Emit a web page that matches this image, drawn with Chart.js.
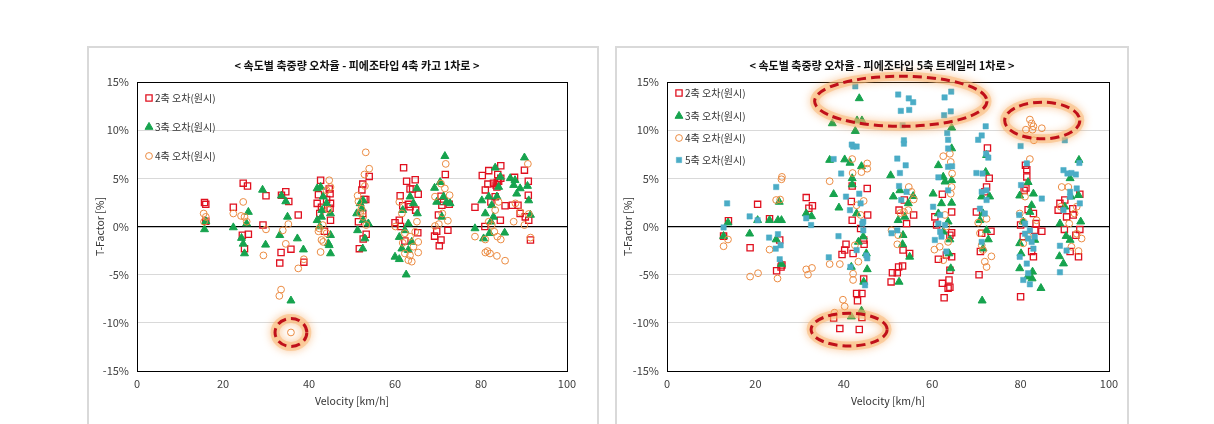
<!DOCTYPE html>
<html>
<head>
<meta charset="utf-8">
<script src="https://cdn.jsdelivr.net/npm/chart.js@4.4.1/dist/chart.umd.min.js"></script>
<style>
body { margin:0; background:#fff; width:1214px; height:424px; overflow:hidden; position:relative; }
.box { position:absolute; top:46px; height:400px; border:2px solid #d9d9d9; box-sizing:border-box; }
canvas { position:absolute; top:48px; }
</style>
</head>
<body>
<div class="box" style="left:87px;width:512px"></div>
<div class="box" style="left:615px;width:514px"></div>
<canvas id="leftChart" width="510" height="376" style="left:88px"></canvas>
<canvas id="rightChart" width="510" height="376" style="left:617px"></canvas>
<script>
// values: [velocity km/h, T-Factor %]
const seriesNames = ['2축 오차(원시)', '3축 오차(원시)', '4축 오차(원시)', '5축 오차(원시)'];
const xTicks = [0, 20, 40, 60, 80, 100];
const yTicks = [-15, -10, -5, 0, 5, 10, 15];

// 4축 카고
const left2 = [[15.7,2.5],[16,2.3],[16,0.55],[22.4,2.0],[24.7,4.5],[25.7,4.2],[24.5,-0.9],[25,-2.3],[25.9,-0.8],[29.3,0.15],[30,3.2],
  [33.6,3.25],[34.6,3.6],[35.3,2.6],[33.5,-2.7],[33.2,-3.8],[35.8,-2.35],[37.5,1.2],[38.8,-3.7],
  [42.7,4.8],[42.2,3.3],[44.7,3.9],[44.9,3.4],[45,2.4],[41.9,2.4],[42.9,2.0],[44.9,1.9],[42.5,1.35],[45,0.65],[43.6,-0.5],[44.1,2.8],
  [52.5,4.4],[52.3,3.8],[52.8,2.8],[53.2,2.8],[54,5.2],[51.5,0.5],[52.5,1.35],[52.6,-1.3],[51.7,-2.3],[53.3,-0.8],
  [62,6.1],[62.7,4.7],[64.7,4.85],[63.5,3.9],[64.1,3.9],[61.2,3.2],[65.4,3.35],[60,0.4],[61,0.65],[61.8,2.15],[63.1,2.3],[63.5,2.05],[64.8,1.7],[65.3,-0.65],[62.3,-1.5],[61.3,0],
  [71.7,5.4],[70.7,3.15],[71.3,2.6],[72.6,2.3],[70.9,2.2],[69.2,-1],[69.7,-0.5],[70.7,-1.4],[70.3,-2.0],[72.3,-0.4],[70.1,1.2],
  [80.3,5.3],[81.8,5.8],[84.6,6.3],[81.6,4.4],[82.9,4.5],[83.9,5.4],[83.7,4.1],[81,3.8],[78.6,2.0],[80.9,0],[84.5,0.65],[84.6,5.0],[82.3,2.55],[83.3,3.1],[85.6,2.15],[83.5,4.3],[83.8,4.6],[84.1,4.7],
  [87.8,5.1],[90.1,5.85],[91,4.7],[91,3.25],[87.3,2.2],[88.6,2.2],[89.1,1.35],[90.3,1.0],[91.5,-1.4],[91.1,0.65]];
const left3 = [[15.7,-0.3],[16,0.55],[22.4,-0.1],[24.3,-1.2],[24.7,-1.8],[25,-2.8],[25.9,1.5],[25.5,0.3],
  [29.2,3.8],[29.9,-1.9],[33.2,-0.9],[33.6,3.2],[34.6,2.6],[35,1.0],[35.8,-7.7],[37.3,-1.25],[38.7,-2.4],
  [41.9,3.95],[42.7,4.1],[43.3,3.1],[43,1.7],[41.9,0.65],[42.5,0],[44.1,2.4],[45,1.35],[45,-0.9],[44.5,-1.75],[45,-2.8],[44.7,-1.95],[42.9,1.0],
  [51.1,1.35],[51.9,2.4],[52.3,1.85],[52.6,0.65],[51.3,-0.4],[52.5,-2.3],[53,-1.25],[53.8,0.3],[52.6,2.7],
  [60,-3.15],[61,-3.4],[62.6,-5],[61.8,1.7],[63.1,0.3],[63.5,3.1],[65.1,3.95],[63.9,-1.6],[61.6,-2.3],[62.3,-0.4],[64.3,2.4],[65.2,1.35],[61,-1.1],[63.1,-2.45],
  [71.6,7.3],[69.2,4.0],[70.5,4.6],[69.7,2.55],[71.3,3.1],[72,2.55],[70.9,1.0],[72.8,2.4],
  [78.6,-0.2],[80.2,2.7],[81,1.35],[81.8,3.1],[82.5,2.2],[83.3,6.1],[84.1,4.1],[84.5,5.15],[80.6,-1.25],[82,-0.7],[85.5,-0.65],[83.7,3.1],[82.9,1.0],[82.3,0.5],
  [86.8,5.0],[87.9,4.8],[90.1,7.15],[88.3,3.4],[89.1,3.95],[90.8,4.2],[91.1,2.7],[91.5,1.2],[87.6,4.3]];
const left4 = [[15.5,1.35],[16,1.0],[15.6,0.5],[22.4,1.35],[24.7,2.55],[24.2,1.1],[25,1.0],[25.5,0.5],
  [29.4,-3.0],[30,-0.3],[33.5,-6.55],[33.1,-7.2],[35.8,-11.0],[33.9,-0.4],[35.2,0.25],[34.6,-1.8],[37.5,-4.35],[38.8,-3.4],
  [44.7,4.8],[45,4.1],[44.1,3.75],[42.4,-0.2],[42.2,-0.5],[42.9,-1.4],[42.7,-2.65],[43.3,-1.6],[44.1,-0.7],[43.2,0.15],[44.5,1.75],
  [53.2,7.7],[54,6.0],[52.9,5.4],[53,4.2],[51.3,3.2],[51.5,2.6],[52.2,1.85],[51.9,1.4],[52.6,1.0],[53.3,0.15],
  [61,2.55],[61.6,1.35],[60.1,0],[61.8,-1.7],[62.3,-2.8],[63.1,-3.5],[63.9,-3.65],[63.5,-3.0],[65.4,-1.6],[65.4,-2.7],[64.7,-0.55],[65.1,0.5],[62.3,-0.7],[63.5,-1.05],[64.3,-2.1],
  [71.8,6.5],[70.7,4.45],[71.6,3.95],[72.7,3.25],[69.3,3.1],[69.3,0.05],[70.2,0.25],[72.3,0.6],[71,1.35],
  [78.6,-1.05],[81,-2.7],[81.5,-2.55],[82.1,-2.8],[83.7,-3.05],[85.6,-3.55],[81,-1.35],[82.5,0.15],[83.1,-0.55],[83.8,-1.05],[84.6,-1.35],[81.8,0.5],[83.3,1.7],[84.1,2.55],
  [87.6,0.5],[88,2.4],[89.1,1.5],[90.1,0.15],[90.9,6.5],[91.5,-1.15],[91.1,1.3]];

// 5축 트레일러
const right2 = [[12.8,-1.0],[13.9,0.6],[20.5,2.3],[18.8,-2.2],[23.2,0.8],[24.8,-4.6],[25.5,-1.4],[26,-4.0],[25.8,-4.2],
  [31.5,3.0],[32.1,1.9],[32.9,2.15],
  [37.7,-9.5],[39.1,-10.6],[43.5,-10.7],[44.1,-9.45],[42.9,-6.95],[44.1,-6.95],[43.1,-7.7],[44.5,-5.45],[41.7,2.6],[41.9,0.65],[41.9,4.2],[45.3,3.95],[45.4,1.2],
  [40.5,-1.85],[40.2,-2.45],[39.6,-2.9],[42.1,-2.8],[44.5,-1.4],[43.8,-0.2],[44.6,-1.85],
  [50.7,-5.75],[51,-4.8],[52.1,-4.8],[52.4,-4.2],[53.3,-4.1],[53.4,-2.45],[53.7,2.75],[54.2,0.3],[55.8,1.2],[52.5,1.7],[54.9,-2.8],
  [62.7,-7.4],[62.3,-5.9],[63.6,-6.4],[64,-6.3],[63.8,-5.55],[64,-4.55],[62.3,3.35],[63.2,-2.95],[64.4,-3.15],[61.4,-3.4],[64,-0.9],[64.4,-0.65],[64.4,1.5],[61,0.15],[60.6,1.0],
  [72.5,8.15],[72.9,5.0],[72.3,4.1],[71.9,3.6],[70.6,-5.0],[70.9,-2.6],[71.2,-0.7],[73.3,-0.5],[70,1.5],
  [80,-7.3],[81.1,6.35],[81.4,5.9],[81.4,5.15],[81.2,4.0],[80.8,3.75],[80,0.15],[83.2,-0.4],[84.8,-0.5],[82.9,-3.15],[82.5,-2.6],[81.7,1.75],[82.9,1.35],[80.6,-1.05],[83.5,0.3],
  [88.9,2.4],[90,2.75],[91.8,1.85],[91.9,1.2],[90.4,1.0],[93.4,3.35],[93.4,-0.3],[92.5,-0.9],[91.2,-2.6],[93.1,-3.15],[89.9,-0.3],[88.5,1.7]];
const right3 = [[12.8,-1.0],[13.8,0.4],[18.7,-0.75],[20.5,0.65],[23.2,0.65],[25.1,0.65],[25.9,0.65],[24.7,-1.35],[25.4,2.55],[25.9,-3.9],
  [31.5,1.35],[32.7,1.05],
  [36.8,6.9],[37.7,3.35],[38.9,1.95],[37.4,10.7],[40.2,6.95],[41.4,6.6],[43.5,13.3],[43,11],[44.1,11],[42.6,9.9],[41.9,5.0],[41.9,4.35],[44,6.25],
  [41.7,-9.35],[44,-8.75],[41.7,-4.2],[44.5,-5.75],[45.3,-4.45],[43.3,-1.6],[45.1,-2.8],[44.4,-1.05],[42.9,1.35],
  [50.6,5.3],[51.2,3.1],[52.7,3.75],[52.5,-5.75],[53.3,-1.85],[53.4,-0.9],[54.9,-3.15],[55.7,3.15],[54.6,2.4],[52.3,0.65],[53.8,1.0],
  [60.2,3.4],[61.4,6.35],[62.5,5.15],[62.9,4.65],[64.4,10.25],[64.4,8.1],[62.1,2.4],[64.4,2.45],[61.4,1.35],[63.6,0.5],[62.5,-0.55],[64,-1.35],[64.2,-4.35],[63.8,-2.8],[64.4,4.8],
  [71.3,-7.7],[72.1,5.65],[72.3,7.4],[71.2,3.1],[70.8,0.65],[71.5,1.35],[72.7,-1.35],[71.5,-2.3],[72.3,-0.4],[73,3.1],
  [79.8,3.2],[81.7,4.6],[82.9,3.4],[82.5,2.2],[79.8,-4.35],[81.6,-5.2],[82.7,-4.7],[82.6,-5.4],[84.6,-6.4],[80.1,-2.8],[83.2,-1.4],[79.8,-1.75],[80.6,0.5],[82.1,1.5],
  [88.8,-3.1],[89.7,-3.85],[90.3,-1.0],[91.2,-1.4],[91.2,5.0],[93.2,6.9],[93.1,3.25],[91.4,3.1],[90,2.05],[93.6,0.5],[88.9,0.3]];
const right4 = [[12.8,-2.05],[13.8,-1.35],[18.8,-5.2],[20.6,-4.85],[23.2,-2.4],[25,-5.4],[24.7,2.75],[25.6,2.8],[25.9,4.9],[26,5.15],
  [31.5,-4.45],[31.9,-5.0],[32.8,-4.3],
  [36.8,4.7],[39.8,-7.6],[40.2,-8.3],[37.9,-8.95],[39.1,-3.9],[36.8,-3.9],[41.9,7.0],[42,5.55],[45.3,6.55],[45.3,6.0],[44,5.65],[42.1,-4.9],[42.1,-5.55],[43.3,-3.65],[42.9,2.2],[43.8,1.2],[44.5,2.65],[42.5,-1.95],
  [50.8,-0.4],[52.1,-1.85],[52.3,-0.9],[52.8,1.4],[53.6,1.5],[54.7,4.1],[55.3,3.6],[55.8,2.8],[54.6,1.7],
  [60.5,-2.4],[62.5,7.3],[64,7.55],[64.2,6.7],[64.5,5.5],[64.4,4.1],[64.2,3.4],[61.7,-2.1],[62.5,-3.5],[63.6,-1.6],[62.9,1.2],[63.2,0],
  [70.4,0.4],[70.8,-0.7],[71.5,-2.45],[71.9,-3.65],[72.3,-4.2],[73.4,-3.1],[72.3,0.8],[71.2,-1.95],
  [82.1,11.1],[82.5,10.7],[82.9,10.4],[82.7,10.05],[84.8,10.2],[83,8.95],[81.2,10.05],[82.1,7.0],[81,3.1],[79.8,1.35],[80.6,0.5],[80.6,-1.75],[81.7,-1.05],[83.6,0.65],
  [89.3,4.1],[90.8,4.1],[92.7,2.05],[92.2,1.35],[91,0.3],[92.7,-0.75],[93.8,-1.25],[93.1,-2.55],[91.5,-2.1],[89.1,2.05]];
const right5 = [[12.8,-0.1],[13.6,2.4],[18.7,1.05],[20.5,0.65],[23.1,-1.15],[24.7,4.1],[25.1,-0.8],[24.6,-2.3],[25.7,-1.95],[25.5,-3.4],
  [31.5,0.85],[32.6,0.15],
  [36.6,-3.2],[37.7,7.0],[38.8,-1.0],[39.4,5.5],[40.5,3.1],[41.4,1.7],[41.8,8.5],[42.1,8.3],[42.9,8.3],[42.6,14.55],[41.5,-4.2],[43.5,3.4],[43.8,2.4],[44.4,0.5],[44.2,0.3],[44.8,-6.1],[45.3,-3.3],[45.1,-3.0],[42.9,-2.45],[44.4,-0.4],
  [50.8,-0.7],[52.1,7.05],[52.3,13.7],[52.9,12.0],[53.3,10.5],[53.6,8.95],[53.6,8.6],[54.7,13.3],[54.8,12.1],[55.7,12.9],[54,6.35],[52.7,5.55],[52.5,4.2],[53,2.75],[54.2,3.6],[52.1,-0.4],
  [62.8,13.4],[62.7,11.55],[64.2,11.95],[64.3,14.0],[63.4,9.7],[63.6,9.0],[63.6,8.1],[63.6,6.2],[64.5,6.25],[61.4,5.1],[63.6,3.75],[60.2,2.05],[61.4,0.3],[61.8,-0.55],[62.1,-1.05],[63.2,-2.6],[60.6,-1.4],[62.9,0.15],[61.8,1.2],
  [70.4,9.0],[71.2,9.45],[72.1,10.4],[72.2,7.55],[72.7,7.15],[70,5.55],[71.4,5.5],[71.2,3.6],[72.3,2.75],[70.8,1.85],[71.9,1.35],[71.2,-1.6],[72.3,3.75],
  [80,8.35],[80.1,4.3],[81.4,6.55],[79.8,-3.15],[80.6,-5.55],[81.4,-3.85],[81.7,-4.85],[82.1,-6.0],[81,-0.75],[81.7,-1.25],[82.5,-1.6],[82.9,-2.3],[84.8,2.9],[79.7,1.2],[81,0.3],[82.1,-0.4],[83.2,-1.05],
  [90,8.95],[88.9,-4.75],[88.9,-2.0],[90.4,-2.5],[89.7,5.85],[90.6,5.5],[91.5,5.55],[92.5,5.4],[91.2,3.6],[92.7,3.95],[93.4,2.4],[93.3,6.6],[91.2,3.1],[89.7,1.7]];

// highlighted groups, in data units
const leftRings = [{x:35.8, y:-11.0, rx:3.7, ry:1.45}];
const rightRings = [{x:52.9, y:13.0, rx:19.5, ry:2.6}, {x:84.9, y:11.0, rx:8.5, ry:1.9}, {x:41.2, y:-10.7, rx:8.6, ry:1.7}];

const FONT = "'Noto Sans CJK KR', 'Noto Sans', sans-serif";
const styles = [
  {pointStyle:'rect', pointRadius:4.4, backgroundColor:'rgba(0,0,0,0)', borderColor:'#E0101F', borderWidth:1.3},
  {pointStyle:'triangle', pointRadius:4.6, backgroundColor:'#16A34E', borderColor:'#16A34E', borderWidth:1},
  {pointStyle:'circle', pointRadius:3.4, backgroundColor:'rgba(0,0,0,0)', borderColor:'#EB8B42', borderWidth:1},
  {pointStyle:'rect', pointRadius:3.8, backgroundColor:'#4BACC6', borderColor:'#4BACC6', borderWidth:0.5}
];

function makeDataset(pairs, i) {
  return Object.assign({
    label: seriesNames[i],
    data: pairs.map(p => ({x: p[0], y: p[1]})),
    order: 4 - i
  }, styles[i]);
}

function drawMarker(ctx, st, x, y) {
  ctx.save();
  ctx.fillStyle = st.backgroundColor;
  ctx.strokeStyle = st.borderColor;
  ctx.lineWidth = st.borderWidth;
  Chart.helpers.drawPoint(ctx, {pointStyle: st.pointStyle, radius: st.pointRadius, rotation: 0, borderWidth: st.borderWidth}, x, y);
  ctx.restore();
}

const extras = {
  id: 'extras',
  beforeDatasetsDraw(chart) {
    const {ctx, chartArea: a} = chart;
    ctx.save();
    ctx.strokeStyle = '#000';
    ctx.lineWidth = 1;
    ctx.strokeRect(Math.round(a.left) + 0.5, Math.round(a.top) + 0.5, Math.round(a.right - a.left), Math.round(a.bottom - a.top));
    ctx.restore();
  },
  afterDatasetsDraw(chart, args, opts) {
    const {ctx} = chart;
    const xs = chart.scales.x, ys = chart.scales.y;
    opts.rings.forEach(r => {
      const cx = xs.getPixelForValue(r.x), cy = ys.getPixelForValue(r.y);
      const rx = Math.abs(xs.getPixelForValue(r.x + r.rx) - cx);
      const ry = Math.abs(ys.getPixelForValue(r.y + r.ry) - cy);
      ctx.save();
      ctx.beginPath();
      ctx.ellipse(cx, cy, rx, ry, 0, 0, Math.PI * 2);
      ctx.strokeStyle = 'rgba(250,185,120,0.55)';
      ctx.shadowColor = 'rgba(245,150,60,0.9)';
      ctx.shadowBlur = 9;
      ctx.lineWidth = 9;
      ctx.stroke();
      ctx.restore();
      ctx.save();
      ctx.beginPath();
      ctx.ellipse(cx, cy, rx, ry, 0, 0, Math.PI * 2);
      ctx.setLineDash([9, 5]);
      ctx.strokeStyle = '#C0101A';
      ctx.lineWidth = 3;
      ctx.stroke();
      ctx.restore();
    });
  },
  afterDraw(chart, args, opts) {
    const {ctx, chartArea: a} = chart;
    ctx.save();
    ctx.fillStyle = '#111';
    ctx.font = 'bold 11px ' + FONT;
    ctx.textAlign = 'center';
    ctx.textBaseline = 'middle';
    ctx.fillText(opts.title, opts.titleX, 18);
    ctx.font = '10px ' + FONT;
    ctx.textAlign = 'left';
    chart.data.datasets.forEach((ds, i) => {
      const y = a.top + opts.legendRows[i];
      drawMarker(ctx, styles[i], a.left + 12, y);
      ctx.fillStyle = '#333';
      ctx.fillText(ds.label, a.left + opts.textDx, y);
    });
    ctx.restore();
  }
};

function makeChart(id, sets, opts, yWidth, padRight, yTitlePad) {
  return new Chart(document.getElementById(id), {
    type: 'scatter',
    data: { datasets: sets },
    plugins: [extras],
    options: {
      responsive: false,
      animation: false,
      layout: { padding: { left: 0, right: padRight, top: 34, bottom: 0 } },
      plugins: {
        legend: { display: false },
        tooltip: { enabled: false },
        extras: opts
      },
      scales: {
        x: {
          type: 'linear', min: 0, max: 100,
          afterFit: s => { s.height = 53; },
          afterBuildTicks: s => { s.ticks = xTicks.map(v => ({value: v})); },
          grid: { display: false, drawTicks: false },
          border: { display: false },
          ticks: { padding: 6, color: '#404040', font: { family: FONT, size: 11 } },
          title: { display: true, text: 'Velocity [km/h]', color: '#333', padding: { top: 0, bottom: 17 }, font: { family: FONT, size: 10.5 } }
        },
        y: {
          type: 'linear', min: -15, max: 15,
          afterFit: s => { s.width = yWidth; },
          afterBuildTicks: s => { s.ticks = yTicks.map(v => ({value: v})); },
          grid: {
            drawTicks: false,
            color: c => c.tick && c.tick.value === 0 ? '#000' : '#d9d9d9',
            lineWidth: c => c.tick && c.tick.value === 0 ? 1.3 : 1
          },
          border: { display: false },
          ticks: { padding: 8, color: '#404040', font: { family: FONT, size: 11 }, callback: v => v + '%' },
          title: { display: true, text: 'T-Factor [%]', color: '#333', padding: { top: yTitlePad, bottom: 0 }, font: { family: FONT, size: 10.5 } }
        }
      }
    }
  });
}

makeChart('leftChart', [left2, left3, left4].map(makeDataset),
  { title: '< 속도별 축중량 오차율 - 피에조타입 4축 카고 1차로 >', titleX: 269, legendRows: [16, 45, 74], textDx: 18, rings: leftRings },
  49, 31, 6);
makeChart('rightChart', [right2, right3, right4, right5].map(makeDataset),
  { title: '< 속도별 축중량 오차율 - 피에조타입 5축 트레일러 1차로 >', titleX: 265, legendRows: [11, 34, 56, 78], textDx: 18, rings: rightRings },
  50, 18, 5);
</script>
</body>
</html>
